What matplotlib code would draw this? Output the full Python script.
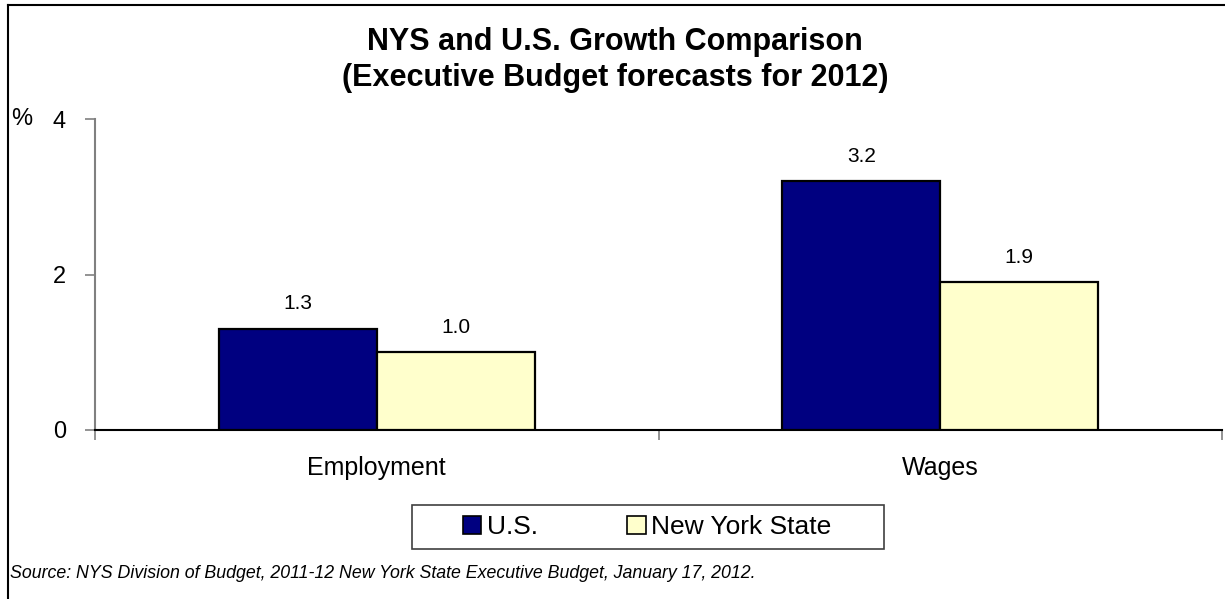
import matplotlib
matplotlib.use("Agg")
import matplotlib.pyplot as plt
from matplotlib.patches import Patch, Rectangle
from matplotlib.lines import Line2D

plt.rcParams['font.family'] = ['Liberation Sans', 'DejaVu Sans']

categories = ["Employment", "Wages"]
us_values = [1.3, 3.2]
nys_values = [1.0, 1.9]
series_names = ["U.S.", "New York State"]
y_ticks = [0, 2, 4]

title = "NYS and U.S. Growth Comparison\n(Executive Budget forecasts for 2012)"
source = ("Source: NYS Division of Budget, 2011-12 New York State Executive Budget, "
          "January 17, 2012.")

US_COLOR = "#000080"
NYS_COLOR = "#FFFFCC"

W, H = 1225, 599
fig = plt.figure(figsize=(W / 100, H / 100), dpi=100)
ax = fig.add_axes([95 / W, 1 - 430 / H, (1222 - 95) / W, (430 - 119) / H])

bar_w = 0.28
x = list(range(len(categories)))
ax.bar([i - bar_w / 2 for i in x], us_values, width=bar_w, color=US_COLOR,
       edgecolor="black", linewidth=1.6, zorder=3)
ax.bar([i + bar_w / 2 for i in x], nys_values, width=bar_w, color=NYS_COLOR,
       edgecolor="black", linewidth=1.6, zorder=3)

for i in x:
    ax.annotate(f"{us_values[i]:.1f}", (i - bar_w / 2, us_values[i]),
                xytext=(0, 18), textcoords="offset points", ha="center",
                va="center", fontsize=15)
    ax.annotate(f"{nys_values[i]:.1f}", (i + bar_w / 2, nys_values[i]),
                xytext=(0, 18), textcoords="offset points", ha="center",
                va="center", fontsize=15)

ax.set_xlim(-0.5, len(categories) - 0.5)
ax.set_ylim(0, 4)
ax.set_yticks(y_ticks)
ax.set_yticklabels([str(t) for t in y_ticks], fontsize=17)
ax.tick_params(axis="y", direction="out", length=7, width=1.2, color="#808080",
               pad=14)

# category labels sit between boundary ticks
ax.set_xticks(x)
ax.set_xticklabels(categories, fontsize=18)
ax.tick_params(axis="x", length=0, pad=19)
ax.set_xticks([-0.5, 0.5, 1.5], minor=True)
ax.tick_params(axis="x", which="minor", direction="out", length=7, width=1.2,
               color="#808080")

for s in ("top", "right"):
    ax.spines[s].set_visible(False)
ax.spines["left"].set_color("#808080")
ax.spines["left"].set_linewidth(1.5)
ax.spines["bottom"].set_color("black")
ax.spines["bottom"].set_linewidth(1.5)

fig.text(22 / W, 1 - 119 / H, "%", fontsize=17, ha="center", va="center")

fig.text(615 / W, 1 - 60 / H, title, fontsize=22, fontweight="bold",
         ha="center", va="center", linespacing=1.25)

# legend box
fig.add_artist(Rectangle((412 / W, 1 - 549 / H), (884 - 412) / W, 44 / H,
                         transform=fig.transFigure, facecolor="white",
                         edgecolor="#404040", linewidth=1.2))
handles = [Patch(facecolor=US_COLOR, edgecolor="black", linewidth=1.2),
           Patch(facecolor=NYS_COLOR, edgecolor="black", linewidth=1.2)]
leg = fig.legend(handles, series_names, loc="center", ncol=2,
                 bbox_to_anchor=(647 / W, 1 - 527 / H), fontsize=19,
                 frameon=False, handlelength=0.7, handleheight=0.7,
                 handletextpad=0.2, columnspacing=3.4, borderpad=0,
                 borderaxespad=0)

fig.text(10 / W, 1 - 574 / H, source, fontsize=12.8, style="italic",
         ha="left", va="center")

# outer frame: top and left edges
fig.add_artist(Line2D([8 / W, 1.0], [1 - 5 / H, 1 - 5 / H], color="black",
                      linewidth=1.5, transform=fig.transFigure))
fig.add_artist(Line2D([8 / W, 8 / W], [1 - 5 / H, 0.0], color="black",
                      linewidth=1.5, transform=fig.transFigure))

fig.savefig("out.png", dpi=100, facecolor="white")
